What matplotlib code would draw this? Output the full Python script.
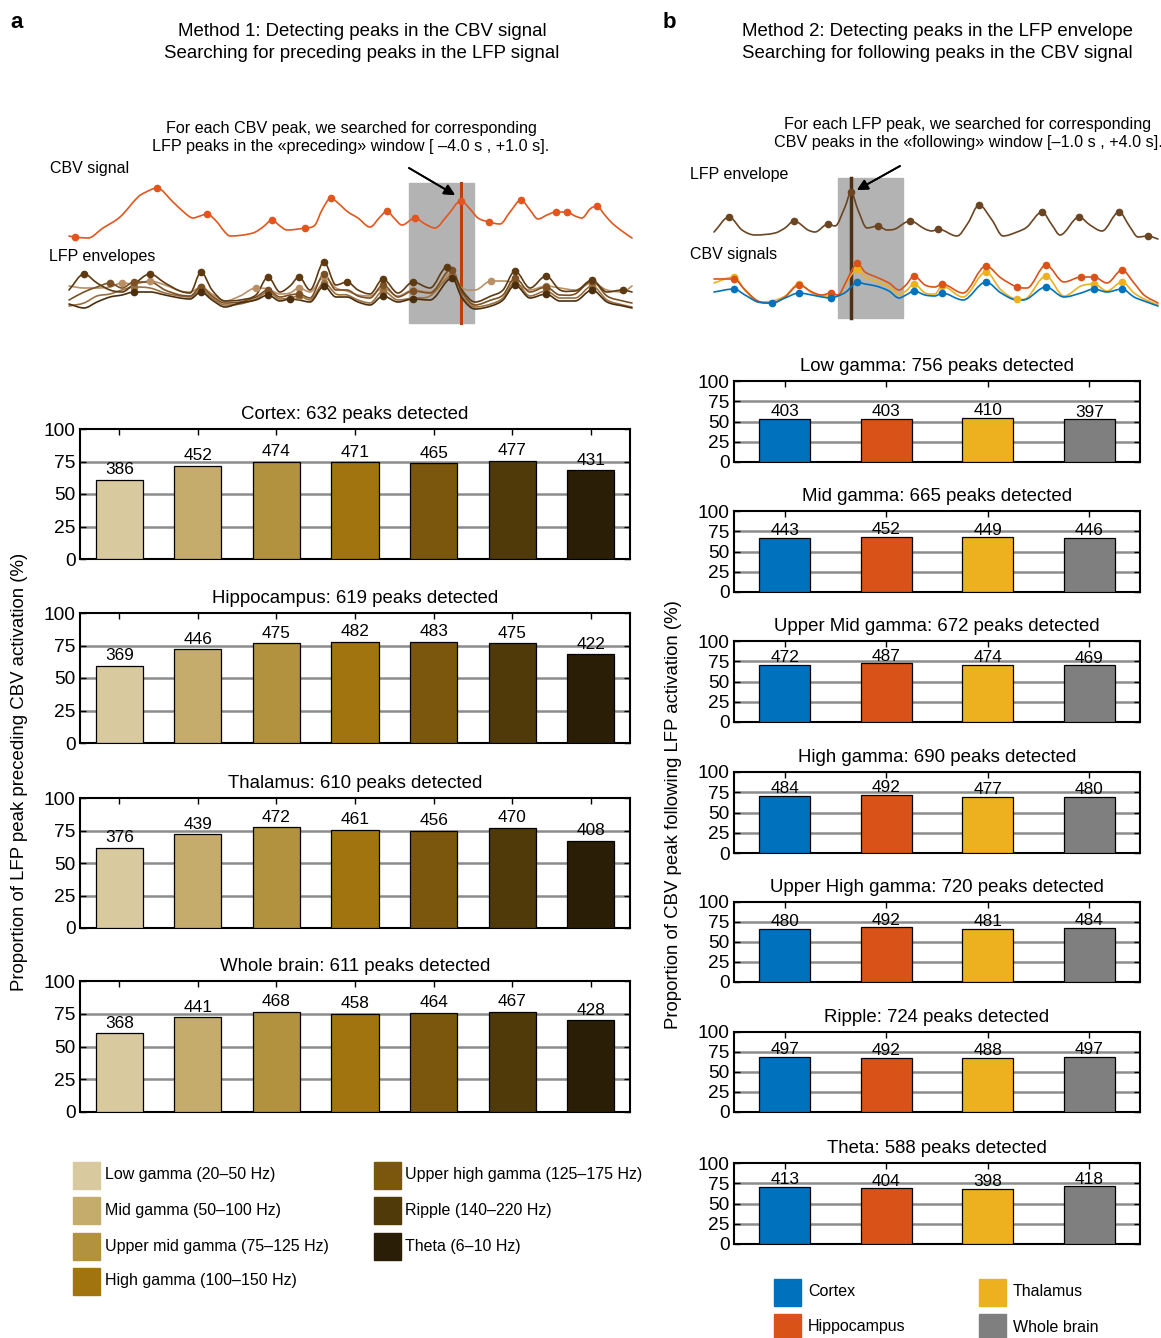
import numpy as np
import matplotlib.pyplot as plt
from matplotlib.patches import Rectangle, PathPatch
from matplotlib.path import Path

plt.rcParams['font.family'] = ['Liberation Sans', 'DejaVu Sans']

W, H = 1161, 1338

# ---------------- bar data ----------------
bands = ['Low gamma (20–50 Hz)', 'Mid gamma (50–100 Hz)', 'Upper mid gamma (75–125 Hz)',
         'High gamma (100–150 Hz)', 'Upper high gamma (125–175 Hz)', 'Ripple (140–220 Hz)',
         'Theta (6–10 Hz)']
band_colors = ['#D9C99E', '#C5AB6C', '#B2913F', '#A1740F', '#7A570C', '#503A0A', '#2A1E06']

regions_a = ['Cortex', 'Hippocampus', 'Thalamus', 'Whole brain']
totals_a = [632, 619, 610, 611]
counts_cortex = [386, 452, 474, 471, 465, 477, 431]
counts_hippo = [369, 446, 475, 482, 483, 475, 422]
counts_thal = [376, 439, 472, 461, 456, 470, 408]
counts_whole = [368, 441, 468, 458, 464, 467, 428]

regions_b = ['Cortex', 'Hippocampus', 'Thalamus', 'Whole brain']
region_colors = ['#0072BD', '#D95319', '#EDB120', '#7F7F7F']
bands_b = ['Low gamma', 'Mid gamma', 'Upper Mid gamma', 'High gamma',
           'Upper High gamma', 'Ripple', 'Theta']
totals_b = [756, 665, 672, 690, 720, 724, 588]
counts_low = [403, 403, 410, 397]
counts_mid = [443, 452, 449, 446]
counts_upmid = [472, 487, 474, 469]
counts_high = [484, 492, 477, 480]
counts_uphigh = [480, 492, 481, 484]
counts_ripple = [497, 492, 488, 497]
counts_theta = [413, 404, 398, 418]

# ---------------- schematic signals (samples at 13 Hz, arbitrary units) ----------------
FS = 13.0
cbv_a_t = [0, 6, 19, 34, 51, 69, 77, 88, 104, 117, 124, 131, 138, 148, 155, 161, 184, 194, 203, 211,
           218, 236, 246, 253, 262, 269, 279, 289, 301, 311, 318, 325, 333, 346, 356, 366, 378, 392, 401, 409,
           420, 431, 441, 452, 461, 469, 478, 487, 498, 506, 513, 521, 528, 535, 543, 553, 563]
cbv_a = [4, 3, 2, 12, 23, 43, 48, 52, 38, 26, 22, 24, 26, 18, 9, 4, 7, 13, 20, 14,
         10, 12, 15, 30, 42, 37, 28, 22, 13, 23, 29, 22, 15, 22, 16, 12, 24, 39, 31, 22,
         18, 16, 28, 40, 30, 21, 25, 28, 28, 24, 22, 31, 34, 26, 17, 9, 2]
cbv_a_peaks = [1, 7, 12, 18, 21, 24, 30, 33, 37, 40, 43, 47, 48, 52]
cbv_a_ref = 37

lfp_a_t = [0, 15, 28, 41, 53, 65, 81, 96, 111, 121, 132, 143, 156, 171, 187, 199, 211, 221, 230, 241,
           255, 267, 278, 289, 301, 314, 329, 344, 361, 378, 383, 393, 406, 422, 434, 446, 461, 477, 491, 506,
           523, 538, 554, 563]
lfp_a1 = [25, 41, 32, 25, 23, 31, 41, 32, 24, 22, 43, 25, 14, 15, 20, 38, 23, 29, 38, 25,
          53, 30, 33, 25, 21, 36, 22, 33, 27, 48, 44, 25, 13, 19, 25, 44, 27, 39, 25, 24, 35, 23, 25, 23]
lfp_a2 = [15, 23, 28, 32, 27, 33, 33, 25, 20, 19, 28, 19, 12, 13, 18, 25, 18, 20, 21, 17,
          41, 25, 25, 19, 17, 30, 18, 24, 22, 43, 45, 23, 10, 15, 20, 37, 23, 28, 20, 21, 34, 19, 14, 12]
lfp_a3 = [9, 12, 19, 21, 25, 28, 27, 22, 19, 18, 25, 17, 10, 11, 16, 23, 16, 17, 19, 15,
          32, 21, 20, 15, 12, 24, 15, 17, 19, 37, 40, 19, 8, 11, 17, 33, 19, 24, 17, 17, 29, 15, 10, 8]
lfp_a4 = [29, 27, 27, 28, 32, 31, 34, 30, 24, 23, 28, 21, 14, 19, 27, 26, 21, 22, 27, 23,
          38, 27, 24, 20, 19, 27, 19, 25, 23, 40, 41, 27, 25, 34, 34, 32, 25, 29, 27, 25, 32, 25, 23, 29]
lfp_a5 = [11, 7, 13, 18, 20, 23, 23, 20, 17, 16, 23, 15, 8, 12, 15, 20, 14, 16, 15, 13,
          29, 18, 18, 13, 10, 19, 13, 16, 15, 34, 37, 17, 6, 9, 15, 30, 17, 21, 14, 14, 25, 13, 9, 7]
lfp_a_colors = ['#5E3A12', '#7A5024', '#9B7040', '#B99066', '#4A2E0E']

lfp_b_t = [0, 15, 28, 41, 61, 71, 80, 94, 101, 114, 121, 131, 137, 144, 153, 164, 173, 181, 196, 211,
           218, 224, 243, 254, 265, 278, 289, 303, 313, 328, 338, 346, 365, 376, 388, 405, 416, 424, 434, 444]
lfp_b = [13, 28, 15, 10, 12, 17, 24, 15, 13, 21, 19, 38, 53, 35, 17, 19, 15, 16, 24, 16,
         14, 16, 9, 22, 40, 25, 9, 13, 18, 33, 20, 10, 28, 20, 14, 33, 18, 8, 9, 6]
lfp_b_peaks = [1, 6, 9, 12, 15, 18, 21, 24, 29, 32, 35, 38]
lfp_b_ref = 12

cbv_b_t = [0, 20, 31, 44, 58, 71, 85, 98, 108, 117, 124, 132, 138, 143, 151, 162, 175, 185, 192, 200,
           211, 221, 228, 249, 272, 287, 303, 313, 332, 350, 367, 380, 393, 408, 420, 430, 444]
cbv_b_ctx = [18, 21, 15, 8, 7, 12, 17, 15, 13, 12, 14, 18, 24, 28, 26, 24, 19, 12, 15, 19,
             15, 14, 17, 10, 28, 17, 10, 11, 23, 13, 17, 21, 18, 21, 13, 9, 4]
cbv_b_hip = [31, 31, 20, 9, 7, 13, 25, 18, 15, 17, 15, 28, 40, 47, 38, 33, 27, 20, 25, 34,
             25, 23, 26, 17, 44, 32, 23, 22, 45, 28, 33, 33, 27, 40, 27, 15, 7]
cbv_b_thal = [27, 33, 20, 8, 9, 14, 26, 17, 14, 14, 14, 27, 36, 41, 33, 29, 23, 16, 19, 26,
              17, 16, 24, 13, 38, 20, 11, 12, 34, 14, 24, 26, 19, 28, 17, 11, 5]
cbv_b_ctx_peaks = [1, 4, 6, 9, 13, 19, 22, 24, 28, 31, 33]
cbv_b_hip_peaks = [1, 6, 9, 13, 19, 22, 24, 26, 28, 30, 31, 33]
cbv_b_thal_peaks = [1, 6, 13, 19, 22, 24, 26, 28, 31, 33]


def rect(x0, y0, x1, y1):
    return [x0 / W, 1 - y1 / H, (x1 - x0) / W, (y1 - y0) / H]


def fx(x):
    return x / W


def fy(y):
    return 1 - y / H


def local_max(a):
    a = np.asarray(a)
    return [i for i in range(1, len(a) - 1) if a[i] > a[i - 1] and a[i] >= a[i + 1]]


def smooth_line(ax, t, v, color, lw=1.2, zorder=3):
    # draw the samples as a smooth bezier path (Hermite segments, flat at extrema)
    t = np.asarray(t, float)
    v = np.asarray(v, float)
    n = len(t)
    m = np.zeros(n)
    for i in range(n):
        if i == 0:
            m[i] = (v[1] - v[0]) / (t[1] - t[0])
        elif i == n - 1:
            m[i] = (v[-1] - v[-2]) / (t[-1] - t[-2])
        else:
            d0 = v[i] - v[i - 1]
            d1 = v[i + 1] - v[i]
            m[i] = 0 if d0 * d1 <= 0 else (v[i + 1] - v[i - 1]) / (t[i + 1] - t[i - 1])
    verts = [(t[0], v[0])]
    codes = [Path.MOVETO]
    for i in range(n - 1):
        h = t[i + 1] - t[i]
        verts += [(t[i] + h / 3, v[i] + m[i] * h / 3),
                  (t[i + 1] - h / 3, v[i + 1] - m[i + 1] * h / 3),
                  (t[i + 1], v[i + 1])]
        codes += [Path.CURVE4] * 3
    ax.add_patch(PathPatch(Path(verts, codes), fill=False, edgecolor=color, lw=lw,
                           zorder=zorder, capstyle='round', joinstyle='round'))


def bar_panel(ax, counts, total, colors, title, width, lab_off):
    pct = np.array(counts) / total * 100
    pos = np.arange(1, len(counts) + 1)
    ax.bar(pos, pct, width, color=colors, edgecolor='black', linewidth=0.9, zorder=3)
    for p, v, c in zip(pos, pct, counts):
        ax.annotate(str(c), (p, v), xytext=(0, lab_off), textcoords='offset points',
                    ha='center', va='baseline', fontsize=12.4, zorder=4)
    for g in (25, 50, 75):
        ax.axhline(g, color='#8C8C8C', lw=1.8, zorder=1)
    ax.set_xlim(0.5, len(counts) + 0.5)
    ax.set_ylim(0, 100)
    ax.set_yticks([0, 25, 50, 75, 100])
    ax.set_xticks(pos)
    ax.set_xticklabels([])
    ax.tick_params(direction='in', top=True, right=True, length=4, width=1, labelsize=13.8, pad=3)
    for s in ax.spines.values():
        s.set_linewidth(1.5)
    ax.set_title(title, fontsize=13.4, pad=7.5)


fig = plt.figure(figsize=(W / 100, H / 100), dpi=100)

# ---------------- panel a: bars ----------------
a_counts = [counts_cortex, counts_hippo, counts_thal, counts_whole]
a_rows = [(429, 559), (613, 743), (798, 928), (981, 1112)]
for name, tot, cnt, (y0, y1) in zip(regions_a, totals_a, a_counts, a_rows):
    ax = fig.add_axes(rect(80, y0, 630, y1))
    bar_panel(ax, cnt, tot, band_colors, f'{name}: {tot} peaks detected', 0.6, 4)

# ---------------- panel b: bars ----------------
b_counts = [counts_low, counts_mid, counts_upmid, counts_high, counts_uphigh, counts_ripple, counts_theta]
b_rows = [(381, 462), (511, 592), (641, 722), (772, 853), (902, 982), (1032, 1112), (1163, 1244)]
for name, tot, cnt, (y0, y1) in zip(bands_b, totals_b, b_counts, b_rows):
    ax = fig.add_axes(rect(734, y0, 1140, y1))
    bar_panel(ax, cnt, tot, region_colors, f'{name}: {tot} peaks detected', 0.5, 2)

# ---------------- panel a: schematic ----------------
sa = fig.add_axes(rect(60, 175, 640, 330))
sa.set_xlim(-9, 571)
sa.set_ylim(-330, -175)
sa.axis('off')
t_ref = cbv_a_t[cbv_a_ref]
sa.add_patch(Rectangle((t_ref - 4 * FS, -323), 5 * FS, 140, color='#B3B3B3', zorder=1))
sa.plot([t_ref, t_ref], [-323, -183], color='#B8400E', lw=2.2, zorder=2)
cbv = np.array(cbv_a) - 240
smooth_line(sa, cbv_a_t, cbv, '#E2561D')
sa.plot(np.array(cbv_a_t)[cbv_a_peaks], cbv[cbv_a_peaks], 'o', color='#E2561D', ms=4.5, zorder=4)
for vals, col in zip([lfp_a4, lfp_a3, lfp_a2, lfp_a5, lfp_a1], [lfp_a_colors[3], lfp_a_colors[2],
                                                              lfp_a_colors[1], lfp_a_colors[4], lfp_a_colors[0]]):
    v = np.array(vals) - 315
    pk = local_max(vals)
    smooth_line(sa, lfp_a_t, v, col)
    sa.plot(np.array(lfp_a_t)[pk], v[pk], 'o', color=col, ms=4.5, zorder=4)

# ---------------- panel b: schematic ----------------
sb = fig.add_axes(rect(700, 170, 1161, 325))
sb.set_xlim(-14, 447)
sb.set_ylim(-325, -170)
sb.axis('off')
t_ref = lfp_b_t[lfp_b_ref]
sb.add_patch(Rectangle((t_ref - 1 * FS, -318), 5 * FS, 140, color='#B3B3B3', zorder=1))
sb.plot([t_ref, t_ref], [-318, -178], color='#4E3014', lw=2.5, zorder=2)
env = np.array(lfp_b) - 245
smooth_line(sb, lfp_b_t, env, '#6B4522')
sb.plot(np.array(lfp_b_t)[lfp_b_peaks], env[lfp_b_peaks], 'o', color='#6B4522', ms=4.5, zorder=4)
for vals, pk, col in [(cbv_b_thal, cbv_b_thal_peaks, region_colors[2]),
                      (cbv_b_hip, cbv_b_hip_peaks, region_colors[1]),
                      (cbv_b_ctx, cbv_b_ctx_peaks, region_colors[0])]:
    v = np.array(vals) - 310
    smooth_line(sb, cbv_b_t, v, col)
    sb.plot(np.array(cbv_b_t)[pk], v[pk], 'o', color=col, ms=4.5, zorder=4)

# ---------------- texts ----------------
fig.text(fx(10), fy(22), 'a', fontsize=16, weight='bold', va='center')
fig.text(fx(663), fy(22), 'b', fontsize=16, weight='bold', va='center')
fig.text(fx(362), fy(31), 'Method 1: Detecting peaks in the CBV signal', ha='center', va='center', fontsize=13.4)
fig.text(fx(362), fy(53), 'Searching for preceding peaks in the LFP signal', ha='center', va='center', fontsize=13.4)
fig.text(fx(937), fy(31), 'Method 2: Detecting peaks in the LFP envelope', ha='center', va='center', fontsize=13.4)
fig.text(fx(937), fy(53), 'Searching for following peaks in the CBV signal', ha='center', va='center', fontsize=13.4)
fig.text(fx(351), fy(128), 'For each CBV peak, we searched for corresponding', ha='center', va='center', fontsize=11.6)
fig.text(fx(351), fy(147), 'LFP peaks in the «preceding» window [ –4.0 s , +1.0 s].', ha='center', va='center', fontsize=11.6)
fig.text(fx(968), fy(124), 'For each LFP peak, we searched for corresponding', ha='center', va='center', fontsize=11.6)
fig.text(fx(968), fy(143), 'CBV peaks in the «following» window [–1.0 s , +4.0 s].', ha='center', va='center', fontsize=11.6)
fig.text(fx(50), fy(168), 'CBV signal', va='center', fontsize=11.5)
fig.text(fx(49), fy(256), 'LFP envelopes', va='center', fontsize=11.5)
fig.text(fx(690), fy(174), 'LFP envelope', va='center', fontsize=11.5)
fig.text(fx(690), fy(255), 'CBV signals', va='center', fontsize=11.5)

arrow = dict(arrowstyle='-|>', color='black', lw=1.3, mutation_scale=16, shrinkA=0, shrinkB=0)
fig.add_artist(plt.annotate('', xy=(fx(455), fy(195)), xytext=(fx(409), fy(168)),
                            xycoords='figure fraction', textcoords='figure fraction', arrowprops=arrow))
fig.add_artist(plt.annotate('', xy=(fx(857), fy(190)), xytext=(fx(900), fy(166)),
                            xycoords='figure fraction', textcoords='figure fraction', arrowprops=arrow))

fig.text(fx(20), fy(772), 'Proportion of LFP peak preceding CBV activation (%)', rotation=90,
         ha='center', va='center', fontsize=13.4)
fig.text(fx(673), fy(815), 'Proportion of CBV peak following LFP activation (%)', rotation=90,
         ha='center', va='center', fontsize=13.4)

# ---------------- legends ----------------
rows_a = [1175, 1210, 1246, 1281]
for i, (lab, col) in enumerate(zip(bands, band_colors)):
    cx, tx = (73, 105) if i < 4 else (374, 405)
    yc = rows_a[i] if i < 4 else rows_a[i - 4]
    fig.add_artist(Rectangle((fx(cx), fy(yc + 13.5)), 27 / W, 27 / H, color=col, transform=fig.transFigure))
    fig.text(fx(tx), fy(yc), lab, va='center', fontsize=11.5)

rows_b = [1292, 1327]
for i, (lab, col) in enumerate(zip(regions_b, region_colors)):
    cx, tx = (774, 808) if i < 2 else (979, 1013)
    yc = rows_b[i % 2]
    fig.add_artist(Rectangle((fx(cx), fy(yc + 13.5)), 27 / W, 27 / H, color=col, transform=fig.transFigure))
    fig.text(fx(tx), fy(yc), lab, va='center', fontsize=11.5)

fig.savefig('out.png', dpi=100)
